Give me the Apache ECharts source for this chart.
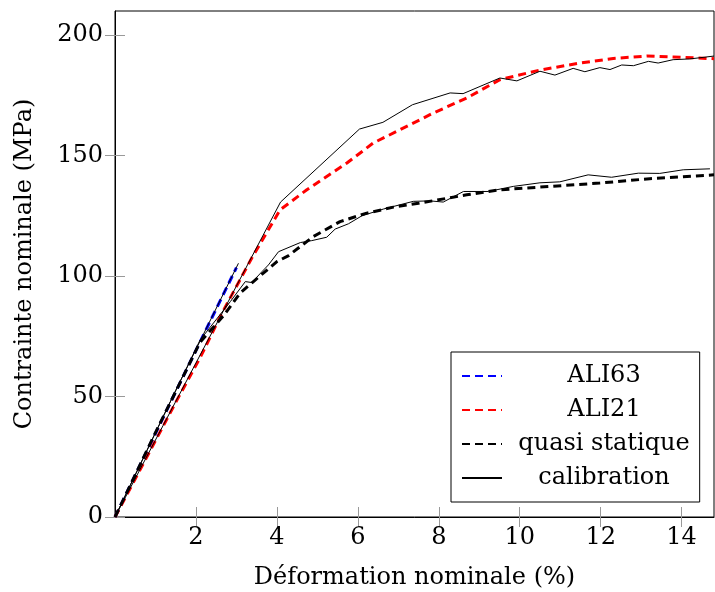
<!DOCTYPE html>
<html>
<head>
<meta charset="utf-8">
<script src="https://cdn.jsdelivr.net/npm/echarts@6/dist/echarts.min.js"></script>
<style>
  html, body { margin: 0; padding: 0; background: #fff; }
  #chart { width: 715px; height: 592px; }
</style>
</head>
<body>
<div id="chart"></div>
<script>
// === Données (déformation %, contrainte MPa)
const ali63 = [[0, 0], [1.5, 52], [3.0, 103.5]];

const ali21 = [
  [0, 0], [1.53, 48.5], [2.1, 66], [2.64, 84.5], [3.38, 107.5], [4.08, 127.5],
  [4.74, 135.8], [5.73, 146.9], [6.38, 155.2], [7.04, 160.7], [7.87, 167.7],
  [8.69, 173.9], [9.51, 181.5], [10.5, 185.5], [11.49, 188.4], [12.31, 190.3],
  [13.14, 191.3], [13.79, 190.9], [14.8, 190.2]
];

const quasiStatique = [
  [0, 0], [1, 35], [2.1, 72.5], [2.68, 83.5], [3.09, 92.9], [3.42, 97.7],
  [4.0, 106], [4.29, 108.5], [4.9, 116.4], [5.56, 122.6], [6.22, 126.1],
  [6.88, 128.6], [7.5, 130.2], [8.69, 133.7], [9.51, 135.8], [10.75, 137.2],
  [11.98, 138.6], [13.21, 140.4], [14.8, 142]
];

// trois courbes de calibration
const calibBasse = [
  [0, 0], [1, 35], [2.1, 73.4], [2.85, 89.4], [3.22, 97.7], [3.38, 97.3],
  [3.63, 101.8], [3.79, 104.6], [4.04, 110.1], [4.58, 113.9], [4.86, 114.7],
  [5.23, 116.1], [5.44, 119.5], [5.77, 121.7], [6.1, 125], [6.63, 127.8],
  [7.37, 131], [7.78, 131.2], [8.11, 130.7], [8.61, 135.1], [9.22, 135.1],
  [9.84, 137.2], [10.5, 138.7], [10.99, 139.1], [11.69, 142], [12.27, 141],
  [12.93, 142.7], [13.46, 142.6], [14.04, 144.1], [14.7, 144.5]
];

const calibHaute = [
  [0, 0], [4.09, 130.7], [6.04, 161], [6.62, 163.8], [7.35, 171.1], [8.28, 176],
  [8.6, 175.7], [9.51, 182.2], [9.93, 181], [10.5, 185], [10.87, 183.4],
  [11.32, 186.2], [11.61, 184.8], [11.98, 186.5], [12.23, 185.7], [12.52, 187.6],
  [12.81, 187.3], [13.18, 189.1], [13.42, 188.4], [13.79, 189.8], [14.2, 190.1],
  [14.8, 191.3]
];

const calibAli63 = [[0, 0], [1.5, 52.5], [3.05, 105.3]];

const legendNames = ['ALI63', 'ALI21', 'quasi statique', 'calibration'];
const xTicks = [2, 4, 6, 8, 10, 12, 14];
const yTicks = [0, 50, 100, 150, 200];

// === Style
const FONT = 'DejaVu Serif';

function ticks(values) {
  return { show: true, inside: true, length: 10, customValues: values, lineStyle: { color: '#999' } };
}

function dashed(name, data, color) {
  return {
    name: name,
    type: 'line',
    data: data,
    showSymbol: false,
    symbol: 'none',
    lineStyle: { color: color, width: 3, type: [8, 5] },
    itemStyle: { color: color },
    z: 3
  };
}

function solid(data) {
  return {
    name: 'calibration',
    type: 'line',
    data: data,
    showSymbol: false,
    symbol: 'none',
    lineStyle: { color: '#000', width: 1 },
    itemStyle: { color: '#000' },
    z: 4
  };
}

const chart = echarts.init(document.getElementById('chart'));

chart.setOption({
  animation: false,
  grid: {
    left: 115, right: 1, top: 11, bottom: 75,
    outerBoundsMode: 'none',
    containLabel: false,
    show: true, borderColor: '#000', borderWidth: 1
  },
  legend: {
    data: legendNames,
    orient: 'vertical',
    left: 451,
    top: 352,
    padding: [12, 10],
    itemGap: 10,
    itemWidth: 40,
    itemHeight: 14,
    itemStyle: { opacity: 0 },
    backgroundColor: '#fff',
    borderColor: '#000',
    borderWidth: 1,
    borderRadius: 0,
    formatter: name => '{t|' + name + '}',
    textStyle: {
      rich: {
        t: { width: 194, align: 'center', fontSize: 24, fontFamily: FONT, color: '#000' }
      }
    }
  },
  xAxis: [
    {
      type: 'value',
      min: 0, max: 14.8, interval: 2,
      name: 'Déformation nominale (%)',
      nameLocation: 'middle',
      nameGap: 49,
      nameTextStyle: { fontFamily: FONT, fontSize: 24, color: '#000' },
      axisLine: { show: true, lineStyle: { color: '#000' } },
      axisTick: ticks(xTicks),
      axisLabel: { fontFamily: FONT, fontSize: 24, color: '#000', margin: 9, customValues: xTicks },
      splitLine: { show: false }
    },
    {
      type: 'value', position: 'top',
      min: 0, max: 14.8, interval: 2,
      axisLine: { show: false },
      axisTick: ticks(xTicks),
      axisLabel: { show: false },
      splitLine: { show: false }
    }
  ],
  yAxis: [
    {
      type: 'value',
      min: 0, max: 210, interval: 50,
      name: 'Contrainte nominale (MPa)',
      nameLocation: 'middle',
      nameGap: 78,
      nameTextStyle: { fontFamily: FONT, fontSize: 24, color: '#000' },
      axisLine: { show: true, lineStyle: { color: '#000' } },
      axisTick: ticks(yTicks),
      axisLabel: { fontFamily: FONT, fontSize: 24, color: '#000', margin: 12, customValues: yTicks },
      splitLine: { show: false }
    },
    {
      type: 'value', position: 'right',
      min: 0, max: 210, interval: 50,
      axisLine: { show: false },
      axisTick: ticks(yTicks),
      axisLabel: { show: false },
      splitLine: { show: false }
    }
  ],
  series: [
    dashed('ALI63', ali63, '#0000ff'),
    dashed('ALI21', ali21, '#ff0000'),
    dashed('quasi statique', quasiStatique, '#000000'),
    solid(calibBasse),
    solid(calibHaute),
    solid(calibAli63)
  ]
});
</script>
</body>
</html>
